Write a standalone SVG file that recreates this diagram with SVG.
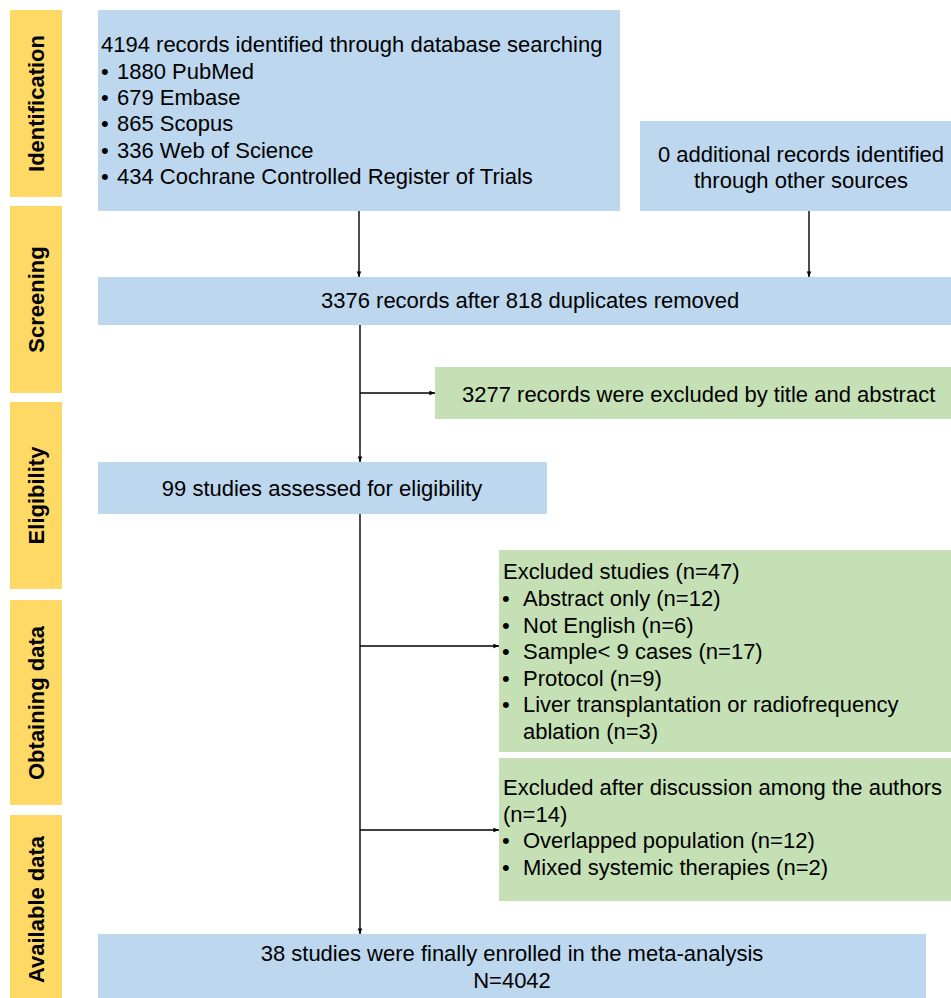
<svg xmlns="http://www.w3.org/2000/svg" width="951" height="998" viewBox="0 0 951 998">
<style>
.bg{fill:#ffffff}
.stage{fill:#FFD966}
.blue{fill:#BDD7EE}
.green{fill:#C5E0B4}
.lbl{font-family:"Liberation Sans",Arial,sans-serif;font-size:22px;font-weight:bold;fill:#000;text-anchor:middle}
.t{font-family:"Liberation Sans",Arial,sans-serif;font-size:22px;fill:#000}
.m{text-anchor:middle}
.b{font-family:"Liberation Sans",Arial,sans-serif;font-size:22px;fill:#000}
.c{stroke:#000;stroke-width:1.4;fill:none;marker-end:url(#ah)}
.cl{stroke:#000;stroke-width:1.4;fill:none}
</style>
<defs>
<marker id="ah" viewBox="0 0 10 10" refX="10" refY="5" markerWidth="4" markerHeight="4" markerUnits="strokeWidth" orient="auto">
<path d="M0,1 L10,5 L0,9 z" fill="#000"/>
</marker>
</defs>
<rect class="bg" x="0" y="0" width="951" height="998"/>

<g id="stage-identification">
<rect class="stage" x="10" y="10" width="52" height="187"/>
<text class="lbl" transform="translate(44,103.5) rotate(-90)">Identification</text>
</g>
<g id="stage-screening">
<rect class="stage" x="10" y="206" width="52" height="187"/>
<text class="lbl" transform="translate(44,299.5) rotate(-90)">Screening</text>
</g>
<g id="stage-eligibility">
<rect class="stage" x="10" y="402" width="52" height="187"/>
<text class="lbl" transform="translate(44,495.5) rotate(-90)">Eligibility</text>
</g>
<g id="stage-obtaining">
<rect class="stage" x="10" y="600" width="52" height="205"/>
<text class="lbl" transform="translate(44,703) rotate(-90)">Obtaining data</text>
</g>
<g id="stage-available">
<rect class="stage" x="10" y="815" width="52" height="183"/>
<text class="lbl" transform="translate(44,909.5) rotate(-90)">Available data</text>
</g>

<g id="node-identified">
<rect class="blue" x="98" y="10" width="522" height="201"/>
<text class="t" x="101" y="52">4194 records identified through database searching</text>
<text class="b" x="101" y="79">•</text><text class="t" x="117" y="79">1880 PubMed</text>
<text class="b" x="101" y="105">•</text><text class="t" x="117" y="105">679 Embase</text>
<text class="b" x="101" y="131">•</text><text class="t" x="117" y="131">865 Scopus</text>
<text class="b" x="101" y="158">•</text><text class="t" x="117" y="158">336 Web of Science</text>
<text class="b" x="101" y="184">•</text><text class="t" x="117" y="184">434 Cochrane Controlled Register of Trials</text>
</g>

<g id="node-additional">
<rect class="blue" x="640" y="121" width="311" height="90"/>
<text class="t m" x="801" y="162">0 additional records identified</text>
<text class="t m" x="801" y="188">through other sources</text>
</g>

<g id="node-screened">
<rect class="blue" x="98" y="277" width="853" height="48"/>
<text class="t" x="321" y="308">3376 records after 818 duplicates removed</text>
</g>

<g id="node-excluded-title">
<rect class="green" x="435" y="367" width="516" height="52"/>
<text class="t" x="462" y="402">3277 records were excluded by title and abstract</text>
</g>

<g id="node-eligibility">
<rect class="blue" x="98" y="462" width="449" height="52"/>
<text class="t m" x="322" y="496">99 studies assessed for eligibility</text>
</g>

<g id="node-excluded-studies">
<rect class="green" x="499" y="550" width="452" height="202"/>
<text class="t" x="503" y="579">Excluded studies (n=47)</text>
<text class="b" x="502" y="606">•</text><text class="t" x="523" y="606">Abstract only (n=12)</text>
<text class="b" x="502" y="633">•</text><text class="t" x="523" y="633">Not English (n=6)</text>
<text class="b" x="502" y="659">•</text><text class="t" x="523" y="659">Sample&lt; 9 cases (n=17)</text>
<text class="b" x="502" y="686">•</text><text class="t" x="523" y="686">Protocol (n=9)</text>
<text class="b" x="502" y="712">•</text><text class="t" x="523" y="712">Liver transplantation or radiofrequency</text>
<text class="t" x="523" y="739">ablation (n=3)</text>
</g>

<g id="node-excluded-discussion">
<rect class="green" x="499" y="758" width="452" height="143"/>
<text class="t" x="503" y="795">Excluded after discussion among the authors</text>
<text class="t" x="503" y="822">(n=14)</text>
<text class="b" x="502" y="848">•</text><text class="t" x="523" y="848">Overlapped population (n=12)</text>
<text class="b" x="502" y="875">•</text><text class="t" x="523" y="875">Mixed systemic therapies (n=2)</text>
</g>

<g id="node-final">
<rect class="blue" x="98" y="934" width="828" height="64"/>
<text class="t m" x="512" y="961">38 studies were finally enrolled in the meta-analysis</text>
<text class="t m" x="512" y="988">N=4042</text>
</g>

<g id="connectors">
<line class="c" x1="359" y1="211" x2="359" y2="277"/>
<line class="c" x1="809" y1="211" x2="809" y2="277"/>
<line class="c" x1="360" y1="325" x2="360" y2="462"/>
<line class="c" x1="360" y1="393" x2="435" y2="393"/>
<line class="c" x1="360" y1="514" x2="360" y2="934"/>
<line class="c" x1="360" y1="646" x2="499" y2="646"/>
<line class="c" x1="360" y1="830" x2="499" y2="830"/>
</g>
</svg>
